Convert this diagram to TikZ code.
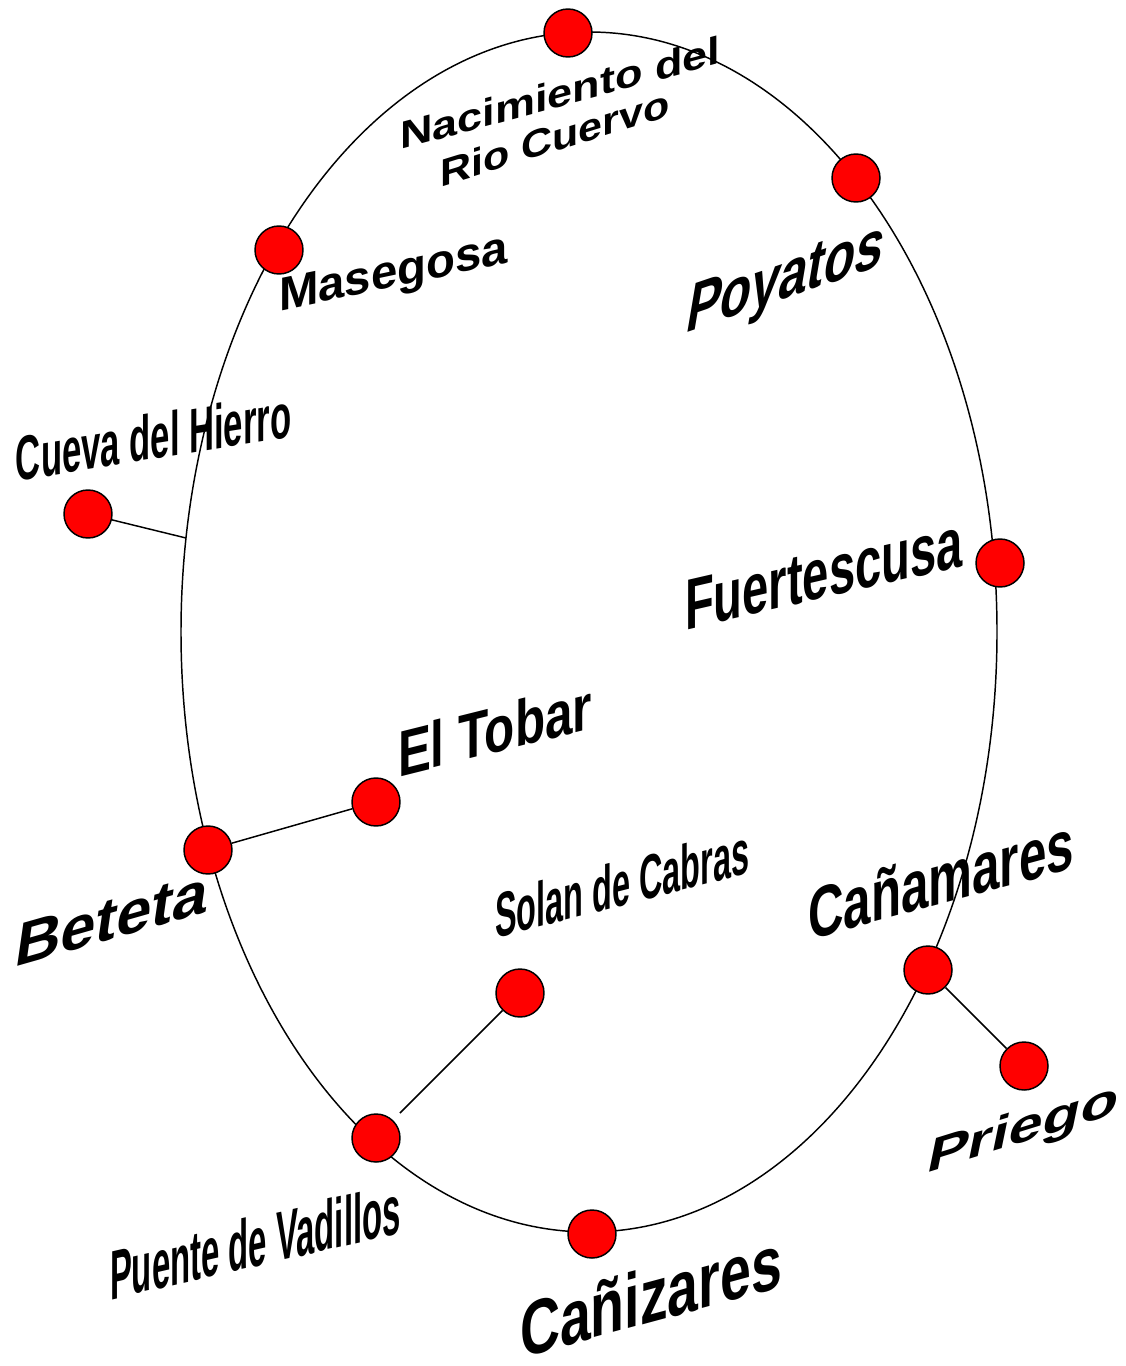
\documentclass[tikz,border=0pt]{standalone}
\usepackage{fontspec}
\setmainfont{Liberation Sans}
\begin{document}
\begin{tikzpicture}[x=0.75pt,y=-0.75pt,
  town/.style={circle,draw=black,fill=red,line width=1.1pt,minimum size=36pt,inner sep=0pt},
  link/.style={draw=black,line width=1.1pt},
  lbl/.style={anchor=base west,inner sep=0pt,outer sep=0pt,font=\bfseries}]
\useasboundingbox (0,0) rectangle (1126,1366);
\draw[line width=1.1pt] (589,632) ellipse [x radius=306pt, y radius=450pt];
\coordinate (cueE) at (186,538);
\coordinate (pueE) at (400,1113);
\node[town] (nac) at (568,33) {};
\node[town] (poy) at (856,178) {};
\node[town] (mas) at (279,250) {};
\node[town] (cue) at (88,514) {};
\node[town] (fue) at (1000,563) {};
\node[town] (tob) at (376,802) {};
\node[town] (bet) at (208,850) {};
\node[town] (sol) at (520,993) {};
\node[town] (can) at (928,970) {};
\node[town] (pri) at (1024,1066) {};
\node[town] (pue) at (376,1138) {};
\node[town] (caz) at (592,1234) {};
\draw[link] (cue) -- (cueE);
\draw[link] (bet) -- (tob);
\draw[link] (sol) -- (pueE);
\draw[link] (can) -- (pri);
\node[lbl,yslant=0.27,yscale=0.86] (l-nac1) at (400,150) {\fontsize{33.75}{40}\selectfont Nacimiento del};
\node[lbl,yslant=0.31,yscale=0.9] (l-nac2) at (440,187) {\fontsize{32.25}{40}\selectfont Rio Cuervo};
\node[lbl,yslant=0.21] (l-mas) at (279,311) {\fontsize{35.5}{40}\selectfont Masegosa};
\node[lbl,yslant=0.34,xslant=0.18,xscale=0.755] (l-poy) at (684,333) {\fontsize{50.25}{60}\selectfont Poyatos};
\node[lbl,yslant=0.16,xscale=0.55] (l-cue) at (16,481) {\fontsize{47.25}{56}\selectfont Cueva del Hierro};
\node[lbl,yslant=0.23,xscale=0.655] (l-fue) at (685,630) {\fontsize{54}{64}\selectfont Fuertescusa};
\node[lbl,yslant=0.25,xscale=0.76] (l-tob) at (398,777) {\fontsize{48.75}{58}\selectfont El Tobar};
\node[lbl,yslant=0.285,xslant=0.15,xscale=1.05] (l-bet) at (13,967) {\fontsize{45}{54}\selectfont Beteta};
\node[lbl,yslant=0.255,xscale=0.515] (l-sol) at (495,938) {\fontsize{47.25}{56}\selectfont Solan de Cabras};
\node[lbl,yslant=0.27,xscale=0.685] (l-can) at (808,940) {\fontsize{54}{64}\selectfont Cañamares};
\node[lbl,yslant=0.31,xslant=0.22,xscale=1.33] (l-pri) at (925,1173) {\fontsize{34.5}{42}\selectfont Priego};
\node[lbl,yslant=0.23,xscale=0.47] (l-pue) at (110,1300) {\fontsize{52.5}{62}\selectfont Puente de Vadillos};
\node[lbl,yslant=0.27,xscale=0.72] (l-caz) at (520,1358) {\fontsize{57.75}{68}\selectfont Cañizares};
\end{tikzpicture}
\end{document}
